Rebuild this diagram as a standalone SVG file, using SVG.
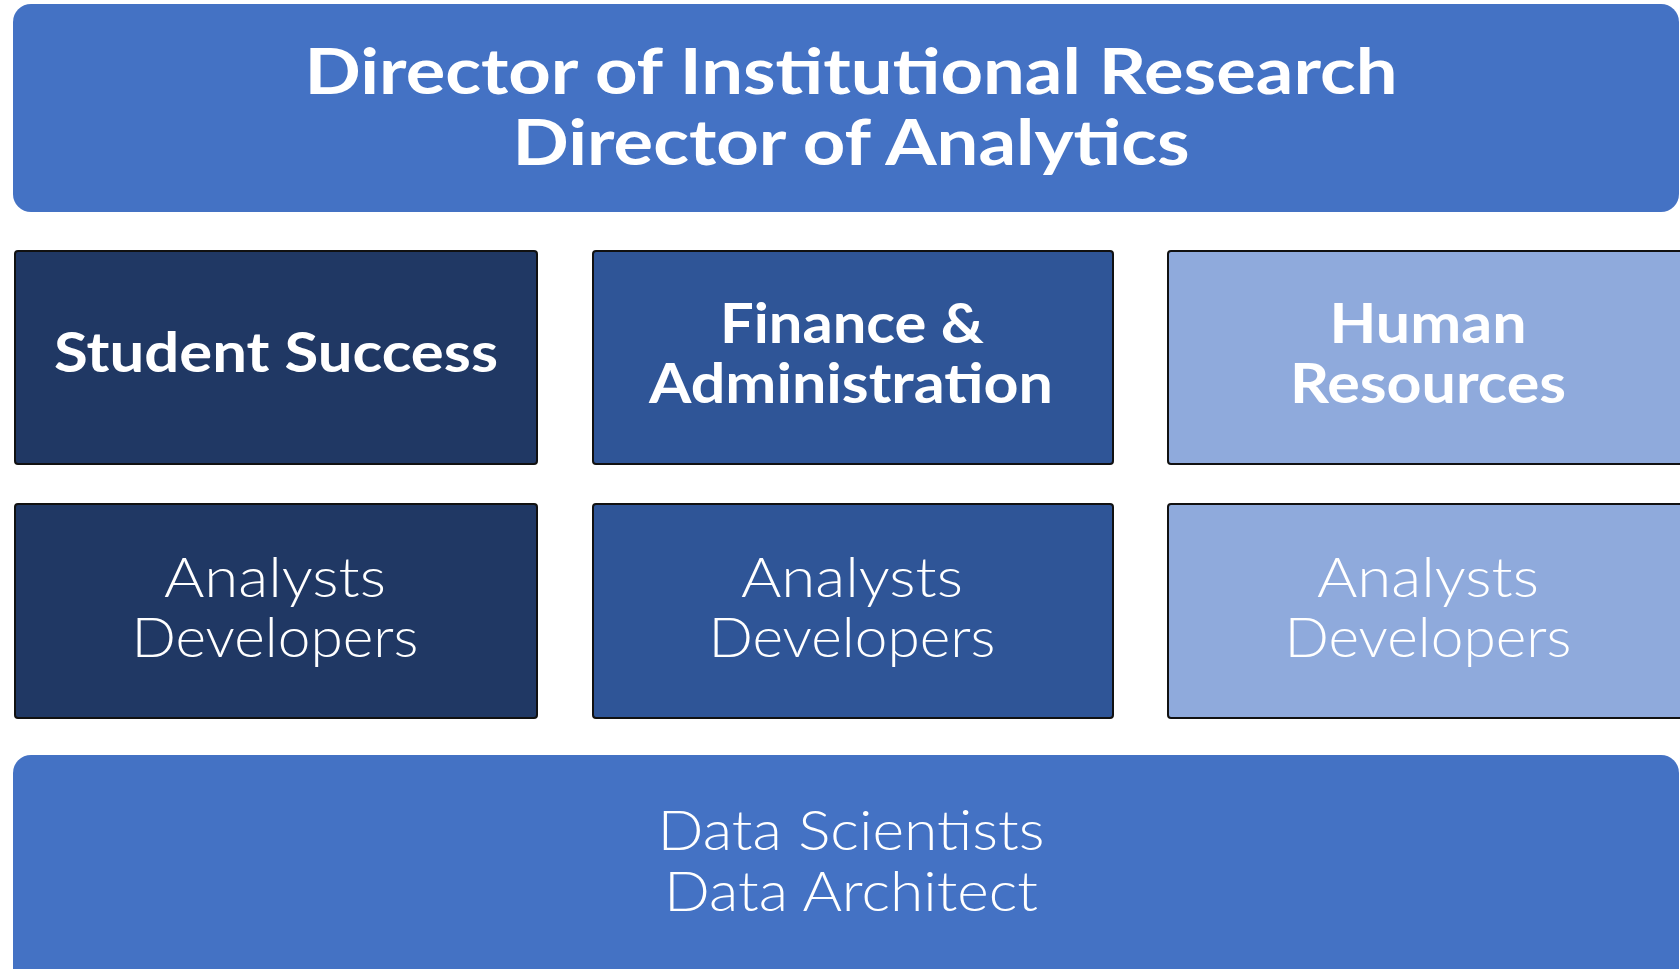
<svg xmlns="http://www.w3.org/2000/svg" width="1680" height="969" viewBox="0 0 1680 969">
  <style>
    .banner { fill: #4472C4; }
    .box { stroke: #111111; stroke-width: 2; }
    .dark { fill: #203864; }
    .mid { fill: #2F5597; }
    .light { fill: #8FAADC; }
    text { fill: #FFFFFF; font-family: Lato, "Open Sans", "Liberation Sans", sans-serif; text-anchor: middle; }
    .title { font-size: 64px; font-weight: 700; }
    .head { font-size: 55px; font-weight: 700; }
    .role { font-size: 55px; font-weight: 300; }
  </style>

  <rect width="1680" height="969" fill="#FFFFFF"/>

  <!-- Leadership banner -->
  <g id="directors">
    <rect class="banner" x="13" y="4" width="1666" height="208" rx="18"/>
    <text class="title" x="851" y="94" textLength="1093" lengthAdjust="spacingAndGlyphs">Director of Institutional Research</text>
    <text class="title" x="851" y="165" textLength="677" lengthAdjust="spacingAndGlyphs">Director of Analytics</text>
  </g>

  <!-- Functional areas -->
  <g id="student-success">
    <rect class="box dark" x="15" y="251" width="522" height="213" rx="3"/>
    <text class="head" x="276" y="372" textLength="444" lengthAdjust="spacingAndGlyphs">Student Success</text>
  </g>
  <g id="finance-administration">
    <rect class="box mid" x="593" y="251" width="520" height="213" rx="3"/>
    <text class="head" x="852" y="343" textLength="264" lengthAdjust="spacingAndGlyphs">Finance &amp;</text>
    <text class="head" x="851" y="403" textLength="404" lengthAdjust="spacingAndGlyphs">Administration</text>
  </g>
  <g id="human-resources">
    <rect class="box light" x="1168" y="251" width="530" height="213" rx="3"/>
    <text class="head" x="1428" y="343" textLength="197" lengthAdjust="spacingAndGlyphs">Human</text>
    <text class="head" x="1428" y="403" textLength="276" lengthAdjust="spacingAndGlyphs">Resources</text>
  </g>

  <!-- Analyst teams -->
  <g id="student-success-team">
    <rect class="box dark" x="15" y="504" width="522" height="214" rx="3"/>
    <text class="role" x="275" y="597" textLength="222" lengthAdjust="spacingAndGlyphs">Analysts</text>
    <text class="role" x="275" y="657" textLength="287" lengthAdjust="spacingAndGlyphs">Developers</text>
  </g>
  <g id="finance-administration-team">
    <rect class="box mid" x="593" y="504" width="520" height="214" rx="3"/>
    <text class="role" x="852" y="597" textLength="222" lengthAdjust="spacingAndGlyphs">Analysts</text>
    <text class="role" x="852" y="657" textLength="287" lengthAdjust="spacingAndGlyphs">Developers</text>
  </g>
  <g id="human-resources-team">
    <rect class="box light" x="1168" y="504" width="530" height="214" rx="3"/>
    <text class="role" x="1428" y="597" textLength="222" lengthAdjust="spacingAndGlyphs">Analysts</text>
    <text class="role" x="1428" y="657" textLength="287" lengthAdjust="spacingAndGlyphs">Developers</text>
  </g>

  <!-- Shared data team -->
  <g id="data-team">
    <rect class="banner" x="13" y="755" width="1666" height="240" rx="18"/>
    <text class="role" x="851" y="850" textLength="387" lengthAdjust="spacingAndGlyphs">Data Scientists</text>
    <text class="role" x="851" y="911" textLength="374" lengthAdjust="spacingAndGlyphs">Data Architect</text>
  </g>

  <g id="connectors"/>
</svg>
